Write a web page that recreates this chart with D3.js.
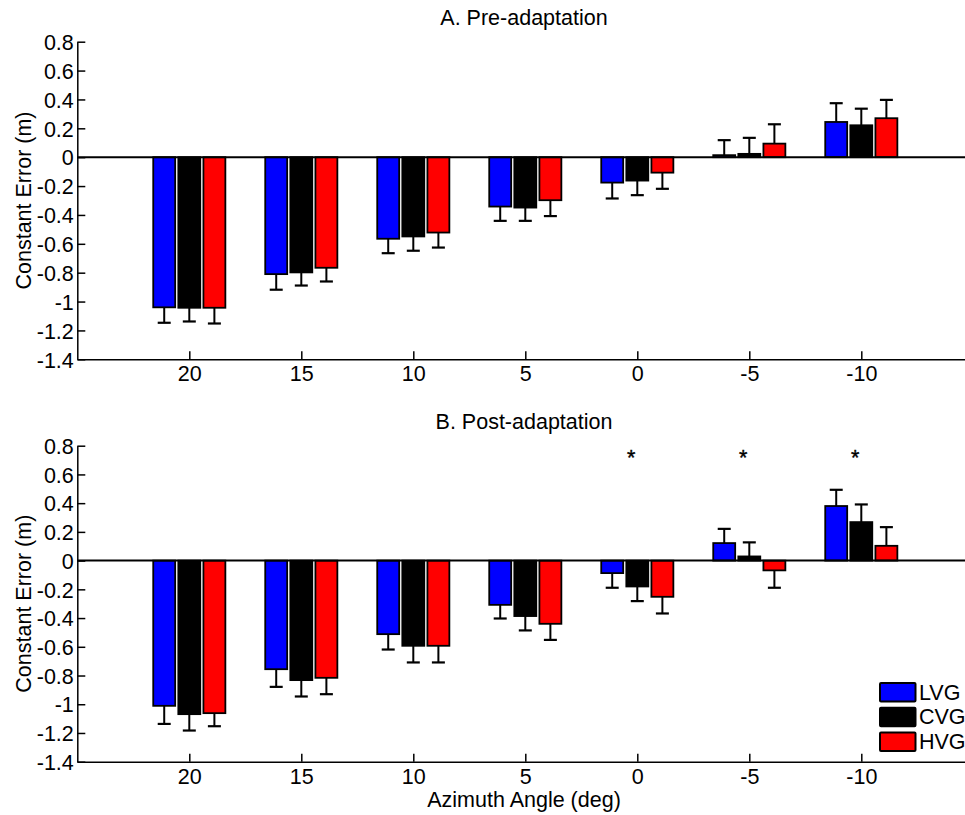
<!DOCTYPE html>
<html>
<head>
<meta charset="utf-8">
<script src="https://cdn.jsdelivr.net/npm/d3@7"></script>
<style>
  html, body { margin: 0; padding: 0; background: #fff; }
  svg { display: block; font-family: "Liberation Sans", Arial, Helvetica, sans-serif; }
</style>
</head>
<body>
<svg id="chart" width="965" height="815"></svg>
<script>
// Azimuth angles (deg) shown along the x axis
const angles = ["20", "15", "10", "5", "0", "-5", "-10"];
const groups = ["LVG", "CVG", "HVG"];
const groupColors = ["#0000ff", "#000000", "#ff0000"];
const yTicks = [0.8, 0.6, 0.4, 0.2, 0, -0.2, -0.4, -0.6, -0.8, -1, -1.2, -1.4];

// Pre-adaptation constant error (m) and standard error
const preLVG = [-1.04, -0.81, -0.565, -0.342, -0.176, 0.014, 0.244];
const preCVG = [-1.043, -0.798, -0.549, -0.349, -0.162, 0.023, 0.221];
const preHVG = [-1.043, -0.766, -0.522, -0.298, -0.107, 0.094, 0.27];
const preLVGErr = [0.107, 0.108, 0.1, 0.099, 0.11, 0.104, 0.13];
const preCVGErr = [0.095, 0.091, 0.099, 0.092, 0.101, 0.111, 0.115];
const preHVGErr = [0.109, 0.095, 0.104, 0.11, 0.112, 0.134, 0.127];

// Post-adaptation constant error (m) and standard error
const postLVG = [-1.011, -0.756, -0.512, -0.308, -0.087, 0.122, 0.38];
const postCVG = [-1.069, -0.832, -0.593, -0.386, -0.18, 0.029, 0.268];
const postHVG = [-1.062, -0.816, -0.593, -0.44, -0.252, -0.068, 0.103];
const postLVGErr = [0.126, 0.123, 0.107, 0.095, 0.102, 0.099, 0.113];
const postCVGErr = [0.114, 0.114, 0.116, 0.1, 0.102, 0.098, 0.123];
const postHVGErr = [0.091, 0.114, 0.116, 0.112, 0.116, 0.121, 0.13];

// Angles with a significant group difference after adaptation
const significant = ["0", "-5", "-10"];

const svg = d3.select("#chart");
const FONT = 21.5;

// x positions: categories sit at 1..7 on a 0..8 axis
const x = d3.scaleLinear().domain([0, 8]).range([77.3, 973.3]);
const catPos = d => x(angles.indexOf(d) + 1);
const barOffset = 0.224; // group offset in axis units
const barWidth = 0.196;

function panel(top, bottom, title, series, errs, stars) {
  const y = d3.scaleLinear().domain([-1.4, 0.8]).range([bottom, top]);
  const g = svg.append("g");

  // bars with one-sided error bars
  series.forEach((vals, si) => {
    const off = (si - 1) * barOffset;
    const gw = x(barWidth) - x(0);
    const data = vals.map((v, i) => ({ v, e: errs[si][i], a: angles[i] }));
    const cx = d => x(angles.indexOf(d.a) + 1 + off);
    const tip = d => y(d.v + Math.sign(d.v || 1) * d.e);
    const sg = g.append("g");
    sg.selectAll("rect").data(data).join("rect")
      .attr("x", d => cx(d) - gw / 2)
      .attr("width", gw)
      .attr("y", d => y(Math.max(0, d.v)))
      .attr("height", d => Math.abs(y(d.v) - y(0)))
      .attr("fill", groupColors[si])
      .attr("stroke", "#000")
      .attr("stroke-width", 1.8);
    const capHalf = 6.5;
    sg.selectAll("line.stem").data(data).join("line")
      .attr("class", "stem")
      .attr("x1", cx).attr("x2", cx)
      .attr("y1", d => y(d.v)).attr("y2", tip)
      .attr("stroke", "#000").attr("stroke-width", 2);
    sg.selectAll("line.cap").data(data).join("line")
      .attr("class", "cap")
      .attr("x1", d => cx(d) - capHalf).attr("x2", d => cx(d) + capHalf)
      .attr("y1", tip).attr("y2", tip)
      .attr("stroke", "#000").attr("stroke-width", 2.2);
  });

  // zero reference line
  g.append("line")
    .attr("x1", x(0)).attr("x2", x(8))
    .attr("y1", y(0)).attr("y2", y(0))
    .attr("stroke", "#000").attr("stroke-width", 2);

  // y axis, ticks pointing inward
  const yAxis = d3.axisLeft(y).tickValues(yTicks).tickSizeInner(-8).tickSizeOuter(0)
    .tickFormat(d => String(+d.toFixed(1)));
  const ya = g.append("g").attr("transform", `translate(${x(0)},0)`).call(yAxis);
  ya.select(".domain").attr("stroke-width", 1.5);
  ya.selectAll(".tick line").attr("stroke-width", 1.5);
  ya.selectAll(".tick text").attr("font-size", FONT).attr("font-family", null)
    .attr("x", -3.5).attr("dy", "0.36em");

  // x axis, ticks pointing inward
  const xAxis = d3.axisBottom(x).tickValues(d3.range(1, 8)).tickSizeInner(-8).tickSizeOuter(0)
    .tickFormat(i => angles[i - 1]);
  const xa = g.append("g").attr("transform", `translate(0,${bottom})`).call(xAxis);
  xa.select(".domain").attr("stroke-width", 1.5);
  xa.selectAll(".tick line").attr("stroke-width", 1.5);
  xa.selectAll(".tick text").attr("font-size", FONT).attr("font-family", null)
    .attr("y", 0).attr("dy", null).attr("transform", "translate(0,22)");

  // panel title
  g.append("text").attr("x", 524).attr("y", top - 16.5)
    .attr("text-anchor", "middle").attr("font-size", FONT).text(title);

  // y label
  g.append("text")
    .attr("transform", `translate(31,${(top + bottom) / 2}) rotate(-90)`)
    .attr("text-anchor", "middle").attr("font-size", FONT)
    .text("Constant Error (m)");

  // significance markers
  g.selectAll("text.star").data(stars).join("text")
    .attr("class", "star")
    .attr("x", d => catPos(d) - 6)
    .attr("y", top + 19.5)
    .attr("text-anchor", "middle").attr("font-size", FONT)
    .attr("stroke", "#000").attr("stroke-width", 0.4)
    .text("*");

  return y;
}

panel(41.7, 359.3, "A. Pre-adaptation",
  [preLVG, preCVG, preHVG], [preLVGErr, preCVGErr, preHVGErr], []);
panel(445.7, 761.7, "B. Post-adaptation",
  [postLVG, postCVG, postHVG], [postLVGErr, postCVGErr, postHVGErr], significant);

// x label
svg.append("text").attr("x", 524).attr("y", 806.5)
  .attr("text-anchor", "middle").attr("font-size", FONT)
  .text("Azimuth Angle (deg)");

// legend
const legend = svg.append("g").attr("transform", "translate(880,683)");
groups.forEach((name, i) => {
  const row = legend.append("g").attr("transform", `translate(0,${i * 24.8})`);
  row.append("rect").attr("width", 35.5).attr("height", 18.5).attr("rx", 1)
    .attr("fill", groupColors[i]).attr("stroke", "#000").attr("stroke-width", 2);
  row.append("text").attr("x", 39).attr("y", 16.5).attr("font-size", FONT).text(name);
});
</script>
</body>
</html>
